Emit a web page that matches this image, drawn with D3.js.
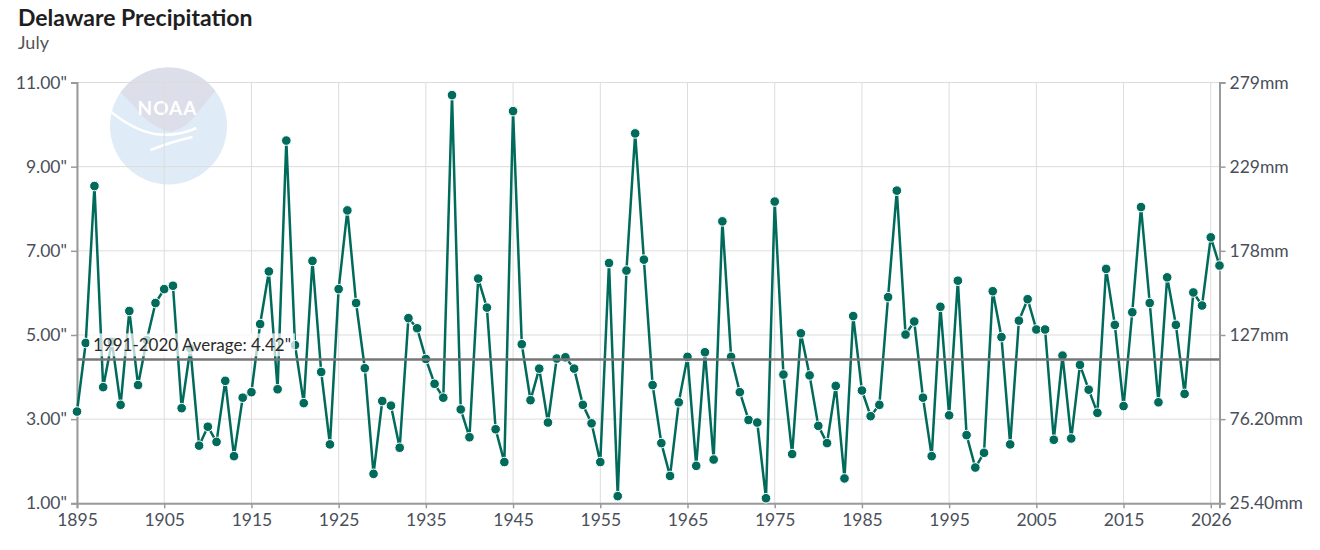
<!DOCTYPE html>
<html>
<head>
<meta charset="utf-8">
<script src="https://cdn.jsdelivr.net/npm/d3@7"></script>
<style>
    body { margin: 0; background: #fff; font-family: Lato, "Noto Sans", sans-serif; }
    #vis-container { width: 1320px; height: 550px; }
</style>
</head>
<body>
<div id="vis-container"></div>
<script>
// Years of the series (1895 to 2026)
const years = d3.range(1895, 2027);

// July precipitation in inches
const precipInches = [
    3.18, 4.81, 8.54, 3.76, 4.84, 3.34, 5.57, 3.81, 4.88, 5.76,
    6.09, 6.17, 3.26, 4.68, 2.37, 2.82, 2.46, 3.91, 2.12, 3.51,
    3.64, 5.26, 6.51, 3.71, 9.62, 4.76, 3.38, 6.76, 4.12, 2.40,
    6.09, 7.96, 5.76, 4.21, 1.70, 3.43, 3.32, 2.32, 5.40, 5.16,
    4.43, 3.84, 3.51, 10.70, 3.23, 2.57, 6.34, 5.65, 2.76, 1.98,
    10.32, 4.78, 3.45, 4.20, 2.92, 4.44, 4.47, 4.20, 3.34, 2.90,
    1.98, 6.71, 1.17, 6.53, 9.79, 6.79, 3.81, 2.43, 1.65, 3.40,
    4.48, 1.89, 4.59, 2.04, 7.70, 4.48, 3.64, 2.98, 2.92, 1.12,
    8.17, 4.06, 2.17, 5.04, 4.04, 2.84, 2.43, 3.79, 1.59, 5.45,
    3.68, 3.07, 3.34, 5.90, 8.43, 5.01, 5.32, 3.51, 2.12, 5.67,
    3.09, 6.29, 2.62, 1.85, 2.20, 6.04, 4.95, 2.40, 5.34, 5.85,
    5.13, 5.13, 2.51, 4.51, 2.54, 4.29, 3.70, 3.15, 6.57, 5.24,
    3.31, 5.54, 8.04, 5.76, 3.40, 6.37, 5.24, 3.60, 6.01, 5.70,
    7.32, 6.65
];

// 1991-2020 normal
const averageValue = 4.42;
const averageLabel = "1991-2020 Average: 4.42\"";

// Tick values and labels
const xTickValues = [1895, 1905, 1915, 1925, 1935, 1945, 1955, 1965, 1975, 1985, 1995, 2005, 2015, 2025];
const xTickLabels = ["1895", "1905", "1915", "1925", "1935", "1945", "1955", "1965", "1975", "1985", "1995", "2005", "2015", "2026"];
const yTickValues = [1, 3, 5, 7, 9, 11];
const yTickLabelsMm = ["25.40mm", "76.20mm", "127mm", "178mm", "229mm", "279mm"];

function main()
{
    // Plot area bounds
    const plot = { left: 77, right: 1219.5, top: 82.5, bottom: 503.3 };
    const lineColor = "#006a5b";
    const textColor = "#4a4f5a";

    const svg = d3.select("#vis-container")
        .append("svg")
        .attr("width", 1320)
        .attr("height", 550);

    // Title and subtitle
    svg.append("text")
        .attr("x", 18)
        .attr("y", 26)
        .attr("font-size", 23)
        .attr("font-weight", "bold")
        .attr("fill", "#1e1e1e")
        .text("Delaware Precipitation");

    svg.append("text")
        .attr("x", 18)
        .attr("y", 49)
        .attr("font-size", 18)
        .attr("fill", "#555")
        .text("July");

    // Scales
    const xScale = d3.scaleLinear()
        .domain([1895, 2026])
        .range([plot.left, plot.right]);

    const yScale = d3.scaleLinear()
        .domain([1, 11])
        .range([plot.bottom, plot.top]);

    // Faded NOAA logo behind the grid
    const logo = svg.append("g").attr("transform", "translate(168.5,126)");
    logo.append("clipPath")
        .attr("id", "logo-clip")
        .append("circle")
        .attr("r", 58.5);
    logo.append("circle")
        .attr("r", 58.5)
        .attr("fill", "#dfebf7");
    logo.append("path")
        .attr("clip-path", "url(#logo-clip)")
        .attr("d", "M-70,-70 L70,-70 L70,-38 L46,-34 Q36,-22 28,-12 Q18,2 2,6 Q-14,2 -26,-10 Q-36,-22 -47,-33 L-70,-38 Z")
        .attr("fill", "#dcdee9");
    logo.append("path")
        .attr("clip-path", "url(#logo-clip)")
        .attr("d", "M-60,-16 Q-36,4 -14,8 Q8,11 28,2")
        .attr("fill", "none")
        .attr("stroke", "#fff")
        .attr("stroke-width", 2.5);
    logo.append("path")
        .attr("d", "M-18,24 Q2,16 24,11")
        .attr("fill", "none")
        .attr("stroke", "#fff")
        .attr("stroke-width", 2.5);
    logo.append("text")
        .attr("x", -1)
        .attr("y", -11)
        .attr("text-anchor", "middle")
        .attr("font-size", 19)
        .attr("font-weight", "bold")
        .attr("letter-spacing", 1)
        .attr("fill", "#fff")
        .text("NOAA");

    // Gridlines
    svg.append("g")
        .selectAll("line")
        .data(xTickValues)
        .enter()
        .append("line")
        .attr("x1", d => xScale(d))
        .attr("x2", d => xScale(d))
        .attr("y1", plot.top)
        .attr("y2", plot.bottom)
        .attr("stroke", "#dcdcdc")
        .attr("stroke-width", 1);

    svg.append("g")
        .selectAll("line")
        .data(yTickValues)
        .enter()
        .append("line")
        .attr("x1", plot.left)
        .attr("x2", plot.right)
        .attr("y1", d => yScale(d))
        .attr("y2", d => yScale(d))
        .attr("stroke", "#dcdcdc")
        .attr("stroke-width", 1);

    // Axes
    const xAxis = d3.axisBottom(xScale)
        .tickValues(xTickValues)
        .tickFormat((_, i) => xTickLabels[i])
        .tickSizeOuter(0)
        .tickSize(5)
        .tickPadding(5);

    const yAxisLeft = d3.axisLeft(yScale)
        .tickValues(yTickValues)
        .tickFormat(d => `${d.toFixed(2)}"`)
        .tickSizeOuter(0)
        .tickSize(6)
        .tickPadding(4);

    const yAxisRight = d3.axisRight(yScale)
        .tickValues(yTickValues)
        .tickFormat((_, i) => yTickLabelsMm[i])
        .tickSizeOuter(0)
        .tickSize(6)
        .tickPadding(4);

    const axes = [
        svg.append("g").attr("transform", `translate(0, ${plot.bottom})`).call(xAxis),
        svg.append("g").attr("transform", `translate(${plot.left}, 0)`).call(yAxisLeft),
        svg.append("g").attr("transform", `translate(${plot.right}, 0)`).call(yAxisRight)
    ];

    axes.forEach(g => {
        g.select(".domain").attr("stroke", "#9a9a9a").attr("stroke-width", 2);
        g.selectAll(".tick line").attr("stroke", "#9a9a9a").attr("stroke-width", 1.5);
        g.selectAll(".tick text")
            .attr("fill", textColor)
            .attr("font-size", 17.5)
            .attr("font-family", "Lato, 'Noto Sans', sans-serif");
    });

    // Series line and points
    const series = years.map((year, i) => ({ year: year, value: precipInches[i] }));

    const line = d3.line()
        .x(d => xScale(d.year))
        .y(d => yScale(d.value));

    svg.append("path")
        .datum(series)
        .attr("d", line)
        .attr("fill", "none")
        .attr("stroke", lineColor)
        .attr("stroke-width", 2.5)
        .attr("stroke-linejoin", "round");

    svg.append("g")
        .selectAll("circle")
        .data(series)
        .enter()
        .append("circle")
        .attr("cx", d => xScale(d.year))
        .attr("cy", d => yScale(d.value))
        .attr("r", 4.8)
        .attr("fill", lineColor)
        .attr("stroke", "#fff")
        .attr("stroke-width", 1);

    // Average line with label
    svg.append("line")
        .attr("x1", plot.left)
        .attr("x2", plot.right)
        .attr("y1", yScale(averageValue))
        .attr("y2", yScale(averageValue))
        .attr("stroke", "#777")
        .attr("stroke-width", 2.5);

    const labelGroup = svg.append("g");
    const labelText = labelGroup.append("text")
        .attr("x", 93)
        .attr("y", yScale(averageValue) - 8)
        .attr("font-size", 17)
        .attr("fill", "#2a2a2a")
        .text(averageLabel);

    const box = labelText.node().getBBox();
    labelGroup.insert("rect", "text")
        .attr("x", box.x - 4)
        .attr("y", box.y - 1)
        .attr("width", box.width + 8)
        .attr("height", box.height + 2)
        .attr("fill", "#fff")
        .attr("opacity", 0.72);
}

document.addEventListener("DOMContentLoaded", main);
</script>
</body>
</html>
